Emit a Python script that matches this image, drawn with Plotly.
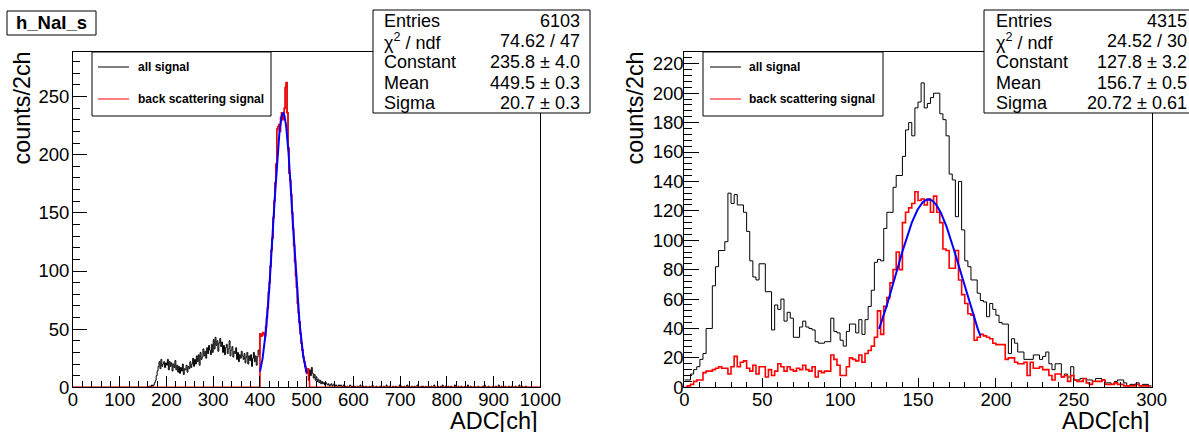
import numpy as np
import plotly.graph_objects as go

W, H = 1189, 432
BIN_WIDTH = 2

# ---------------- data (counts per 2 channels) ----------------
# Left panel: h_NaI_s, range 0..1000 ch, 500 bins
left_nbins = 500
left_low_start = 160          # "all signal" low-energy part, bins 160..398
left_all_low = [
    0, 1, 1, 0, 2, 1, 2, 4, 6, 10,
    14, 18, 22, 16, 24, 18, 20, 22, 17, 21,
    19, 24, 15, 22, 18, 21, 14, 20, 17, 23,
    15, 19, 13, 18, 12, 17, 14, 20, 11, 16,
    15, 19, 13, 18, 16, 22, 17, 20, 25, 18,
    24, 20, 27, 22, 28, 19, 30, 24, 26, 33,
    27, 31, 25, 34, 29, 36, 32, 28, 37, 30,
    41, 33, 43, 36, 40, 31, 38, 42, 35, 39,
    30, 36, 28, 34, 37, 29, 33, 40, 27, 32,
    35, 26, 31, 29, 34, 24, 30, 22, 28, 25,
    31, 27, 24, 29, 21, 26, 30, 20, 27, 23,
    28, 18, 25, 30, 22, 27, 19, 26, 32, 28,
]
left_peak_start = 400         # back scattering signal, bins 400..504
left_backscatter_peak = [
    46, 44, 45, 47, 46, 44, 52, 60, 68, 82,
    90, 104, 118, 128, 146, 160, 176, 192, 222, 224,
    226, 220, 232, 236, 230, 236, 240, 258, 262, 236,
    206, 184, 178, 166, 150, 136, 122, 108, 96, 86,
    72, 64, 56, 46, 38, 32, 26, 22, 18, 14,
    12, 16, 6,
]
left_tail_start = 506         # "all signal" tail, bins 506..998
left_all_tail = [
    15, 10, 17, 12, 8, 11, 6, 9, 5, 7,
    4, 6, 3, 5, 3, 4, 2, 4, 3, 2,
    3, 1, 2, 3, 1, 2, 3, 1, 2, 1,
    1, 2, 1, 2, 1, 0, 2, 1, 1, 0,
    1, 0, 0, 2, 1, 0, 1, 0, 1, 0,
    0, 1, 0, 0, 2, 0, 0, 1, 0, 0,
    1, 0, 0, 0, 1, 0, 0, 2, 0, 0,
    0, 1, 0, 0, 0, 1, 0, 0, 0, 1,
    0, 0, 2, 0, 0, 1, 0, 0, 0, 1,
    0, 0, 1, 0, 0, 0, 2, 0, 1, 0,
    0, 1, 0, 0, 2, 0, 1, 0, 0, 1,
    0, 0, 1, 0, 0, 2, 0, 0, 0, 1,
    0, 1, 0, 0, 1, 0, 0, 1, 0, 0,
    1, 0, 0, 2, 0, 0, 0, 1, 0, 0,
    1, 0, 2, 0, 0, 1, 0, 0, 1, 0,
    0, 1, 0, 0, 0, 2, 0, 0, 0, 1,
    0, 0, 1, 0, 0, 0, 1, 0, 0, 2,
    0, 0, 1, 0, 0, 0, 1, 0, 0, 0,
    1, 0, 0, 0, 0, 1, 0, 2, 0, 0,
    0, 1, 0, 0, 0, 0, 1, 0, 0, 1,
    0, 0, 2, 0, 0, 1, 0, 0, 0, 1,
    0, 0, 0, 1, 0, 0, 1, 0, 0, 0,
    1, 0, 0, 0, 2, 0, 0, 1, 0, 0,
    0, 1, 0, 0, 0, 0, 0, 0, 0, 0,
    0, 0, 0, 0, 0, 0, 0,
]

# Right panel: range 0..300 ch, 150 bins
right_all = [
    5, 5, 9, 12, 14, 19, 23, 40, 40, 69,
    82, 93, 93, 99, 132, 125, 131, 124, 124, 119,
    106, 86, 75, 73, 84, 84, 65, 65, 39, 56,
    53, 60, 45, 51, 47, 34, 34, 41, 45, 41,
    40, 39, 31, 30, 30, 31, 31, 47, 38, 37,
    32, 28, 38, 43, 43, 37, 46, 36, 46, 55,
    66, 85, 87, 86, 108, 119, 119, 136, 144, 144,
    157, 175, 180, 171, 190, 194, 207, 190, 193, 197,
    200, 200, 186, 182, 171, 145, 141, 116, 140, 107,
    86, 82, 73, 73, 64, 59, 58, 48, 57, 53,
    49, 44, 43, 43, 23, 33, 30, 24, 24, 19,
    19, 19, 22, 22, 19, 21, 24, 16, 12, 16,
    16, 7, 9, 7, 14, 5, 5, 6, 6, 5,
    5, 4, 6, 6, 5, 3, 3, 2, 4, 5,
    5, 3, 1, 2, 2, 3, 1, 2, 2, 1,
]
right_backscatter = [
    0, 1, 2, 4, 5, 5, 10, 11, 11, 12,
    13, 14, 13, 13, 9, 14, 21, 14, 17, 18,
    13, 11, 15, 9, 14, 14, 7, 12, 8, 11,
    16, 14, 11, 14, 12, 11, 13, 12, 15, 12,
    11, 14, 7, 11, 10, 11, 11, 22, 19, 15,
    8, 8, 14, 20, 19, 18, 22, 17, 23, 25,
    28, 34, 52, 36, 55, 61, 71, 80, 92, 80,
    112, 119, 122, 125, 133, 127, 128, 124, 128, 119,
    130, 119, 112, 94, 93, 81, 81, 93, 73, 63,
    57, 50, 49, 32, 34, 36, 35, 34, 33, 30,
    29, 29, 29, 19, 20, 20, 17, 16, 16, 17,
    8, 17, 13, 13, 14, 12, 12, 8, 5, 9,
    9, 7, 8, 4, 8, 5, 4, 4, 6, 3,
    2, 4, 4, 4, 5, 2, 2, 2, 3, 2,
    2, 1, 1, 1, 1, 2, 1, 1, 1, 0,
]

# Gaussian fit results (from the stats boxes) and fit ranges
left_fit = {"constant": 235.8, "mean": 449.5, "sigma": 20.7, "lo": 400, "hi": 500}
right_fit = {"constant": 127.8, "mean": 156.7, "sigma": 20.72, "lo": 125, "hi": 190}

left_stats = [("Entries", "6103"), ("χ<sup>2</sup> / ndf", "74.62 / 47"),
              ("Constant", "235.8 ± 4.0"), ("Mean", "449.5 ± 0.3"), ("Sigma", "20.7 ± 0.3")]
right_stats = [("Entries", "4315"), ("χ<sup>2</sup> / ndf", "24.52 / 30"),
               ("Constant", "127.8 ± 3.2"), ("Mean", "156.7 ± 0.5"), ("Sigma", "20.72 ± 0.61")]
legend_labels = ["all signal", "back scattering signal"]
hist_title = "h_NaI_s"
x_title = "ADC[ch]"
y_title = "counts/2ch"

# ---------------- build histograms ----------------
left_all = np.zeros(left_nbins)
left_bs = np.zeros(left_nbins)
i0 = left_low_start // BIN_WIDTH
left_all[i0:i0 + len(left_all_low)] = left_all_low
i1 = left_peak_start // BIN_WIDTH
left_all[i1:i1 + len(left_backscatter_peak)] = left_backscatter_peak
left_bs[i1:i1 + len(left_backscatter_peak)] = left_backscatter_peak
i2 = left_tail_start // BIN_WIDTH
left_all[i2:i2 + len(left_all_tail)] = left_all_tail


def steps(counts, width=BIN_WIDTH, start=0.0):
    counts = np.asarray(counts, dtype=float)
    edges = start + width * np.arange(len(counts) + 1)
    x = np.repeat(edges, 2)[1:-1]
    y = np.repeat(counts, 2)
    return x, y


def gauss(p, n=300):
    x = np.linspace(p["lo"], p["hi"], n)
    return x, p["constant"] * np.exp(-0.5 * ((x - p["mean"]) / p["sigma"]) ** 2)


FONT = "Liberation Sans, Arial, Helvetica, sans-serif"
fig = go.Figure()

for xa, ya, hall, hbs, fit in [("x", "y", left_all, left_bs, left_fit),
                               ("x2", "y2", right_all, right_backscatter, right_fit)]:
    x, y = steps(hall)
    fig.add_trace(go.Scatter(x=x, y=y, mode="lines", line=dict(color="black", width=1),
                             xaxis=xa, yaxis=ya, showlegend=False, hoverinfo="skip"))
    x, y = steps(hbs)
    fig.add_trace(go.Scatter(x=x, y=y, mode="lines", line=dict(color="#ff0000", width=1.6),
                             xaxis=xa, yaxis=ya, showlegend=False, hoverinfo="skip"))
    x, y = gauss(fit)
    fig.add_trace(go.Scatter(x=x, y=y, mode="lines", line=dict(color="#0000ff", width=2),
                             xaxis=xa, yaxis=ya, showlegend=False, hoverinfo="skip"))

# ---------------- layout geometry (pixels) ----------------
PLOT_TOP, PLOT_BOTTOM = 52.0, 387.3
L_X0, L_X1 = 73.0, 540.4
R_X0, R_X1 = 684.3, 1151.7


def fx(p):
    return p / W


def fy(p):
    return 1 - p / H


ydom = [fy(PLOT_BOTTOM), fy(PLOT_TOP)]
TICK_SIZE = 18.5


def axis(domain, rng, dtick, ticklen, minor_dtick, minor_len, anchor, standoff):
    return dict(domain=domain, range=rng, dtick=dtick, tick0=0, ticks="inside", ticklen=ticklen,
                tickwidth=1, tickcolor="black", showline=True, linecolor="black", linewidth=1,
                mirror=True, showgrid=False, zeroline=False,
                tickfont=dict(family=FONT, size=TICK_SIZE, color="black"), anchor=anchor,
                ticklabelstandoff=standoff, automargin=False,
                minor=dict(dtick=minor_dtick, ticks="inside", ticklen=minor_len,
                           tickcolor="black", tickwidth=1, showgrid=False))


fig.update_layout(
    width=W, height=H, margin=dict(l=0, r=0, t=0, b=0, autoexpand=False),
    paper_bgcolor="white", plot_bgcolor="white", showlegend=False,
    xaxis=axis([fx(L_X0), fx(L_X1)], [0, 1000], 100, 11, 20, 6, "y", -5),
    yaxis=axis(ydom, [0, 288.3], 50, 14, 10, 7, "x", -1),
    xaxis2=axis([fx(R_X0), fx(R_X1)], [0, 300], 50, 9, 10, 5, "y2", -5),
    yaxis2=axis(ydom, [0, 228.0], 20, 15, 4, 7.5, "x2", -4),
)

shapes = []
annotations = []


def rect(x0, y0, x1, y1):
    shapes.append(dict(type="rect", xref="paper", yref="paper", x0=fx(x0), x1=fx(x1),
                       y0=fy(y1), y1=fy(y0), line=dict(color="black", width=1),
                       fillcolor="white", layer="above"))


def text(x, y, s, size, xanchor="left", yanchor="middle", bold=False, angle=0):
    annotations.append(dict(xref="paper", yref="paper", x=fx(x), y=fy(y), text=s,
                            showarrow=False, xanchor=xanchor, yanchor=yanchor, textangle=angle,
                            font=dict(family=FONT, size=size, color="black",
                                      weight="bold" if bold else "normal")))


# title box
rect(7, 11, 96, 35)
text(51.5, 23, hist_title, 18.5, xanchor="center", bold=True)

# stats boxes
ROW_Y = [21, 41.5, 62, 82.5, 103]
for (bx0, bx1, lab_x, val_x, stats) in [(373, 590, 382, 582, left_stats),
                                         (984, 1196, 994, 1189, right_stats)]:
    rect(bx0, 10, bx1, 113)
    for (lab, val), yy in zip(stats, ROW_Y):
        text(lab_x, yy, lab, 18)
        text(val_x, yy, val, 18, xanchor="right")

# legends
for (lx0, lx1, s0, s1, tx) in [(92, 271, 98, 129, 136), (703, 883, 710, 741, 747)]:
    rect(lx0, PLOT_TOP, lx1, 116)
    for lab, col, yy in zip(legend_labels, ["black", "#ff0000"], [67, 99]):
        shapes.append(dict(type="line", xref="paper", yref="paper", x0=fx(s0), x1=fx(s1),
                           y0=fy(yy), y1=fy(yy), line=dict(color=col, width=1), layer="above"))
        text(tx, yy, lab, 12, bold=True)

# axis titles
for xr in (L_X1, R_X1):
    text(xr, 421, x_title, 23.5, xanchor="right")
for ycx in (22, 635):
    text(ycx, 50, y_title, 23.4, xanchor="center", yanchor="top", angle=-90)

fig.update_layout(shapes=shapes, annotations=annotations)
fig.write_html("out.html")
